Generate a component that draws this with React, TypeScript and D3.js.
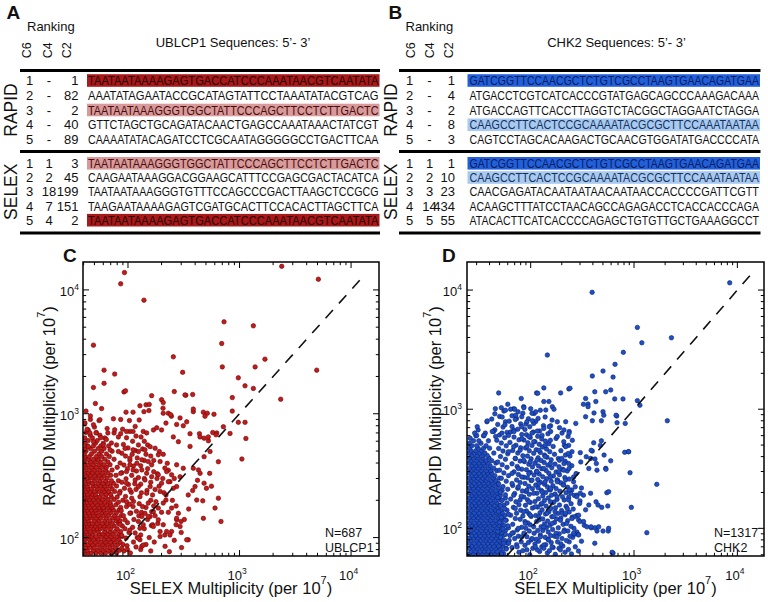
import React from 'react';
import * as d3 from 'd3';

const FONT = '"Liberation Sans", Arial, Helvetica, sans-serif';
const SEQ_FONT = '"Liberation Sans Narrow", "Arial Narrow", "Liberation Sans", Arial, sans-serif';

// ---------------- Table data ----------------
const rankingHeaders = ['C6', 'C4', 'C2'];
const groupLabels = ['RAPID', 'SELEX'];

const ublcp1RapidRanks = [['1', '-', '1'], ['2', '-', '82'], ['3', '-', '2'], ['4', '-', '40'], ['5', '-', '89']];
const ublcp1RapidSeqs = [
  'TAATAATAAAAGAGTGACCATCCCAAATAACGTCAATATA',
  'AAATATAGAATACCGCATAGTATTCCTAAATATACGTCAG',
  'TAATAATAAAGGGTGGCTATTCCCAGCTTCCTCTTGACTC',
  'GTTCTAGCTGCAGATACAACTGAGCCAAATAAACTATCGT',
  'CAAAATATACAGATCCTCGCAATAGGGGGCCTGACTTCAA',
];
const ublcp1RapidShade = [2, 0, 1, 0, 0];
const ublcp1SelexRanks = [['1', '1', '3'], ['2', '2', '45'], ['3', '18', '199'], ['4', '7', '151'], ['5', '4', '2']];
const ublcp1SelexSeqs = [
  'TAATAATAAAGGGTGGCTATTCCCAGCTTCCTCTTGACTC',
  'CAAGAATAAAGGACGGAAGCATTTCCGAGCGACTACATCA',
  'TAATAATAAAGGGTGTTTCCAGCCCGACTTAAGCTCCGCG',
  'TAAGAATAAAAGAGTCGATGCACTTCCACACTTAGCTTCA',
  'TAATAATAAAAGAGTGACCATCCCAAATAACGTCAATATA',
];
const ublcp1SelexShade = [1, 0, 0, 0, 2];

const chk2RapidRanks = [['1', '-', '1'], ['2', '-', '4'], ['3', '-', '2'], ['4', '-', '8'], ['5', '-', '3']];
const chk2RapidSeqs = [
  'GATCGGTTCCAACGCTCTGTCGCCTAAGTGAACAGATGAA',
  'ATGACCTCGTCATCACCCGTATGAGCAGCCCAAAGACAAA',
  'ATGACCAGTTCACCTTAGGTCTACGGCTAGGAATCTAGGA',
  'CAAGCCTTCACTCCGCAAAATACGCGCTTCCAAATAATAA',
  'CAGTCCTAGCACAAGACTGCAACGTGGATATGACCCCATA',
];
const chk2RapidShade = [2, 0, 0, 1, 0];
const chk2SelexRanks = [['1', '1', '1'], ['2', '2', '10'], ['3', '3', '23'], ['4', '14', '434'], ['5', '5', '55']];
const chk2SelexSeqs = [
  'GATCGGTTCCAACGCTCTGTCGCCTAAGTGAACAGATGAA',
  'CAAGCCTTCACTCCGCAAAATACGCGCTTCCAAATAATAA',
  'CAACGAGATACAATAATAACAATAACCACCCCGATTCGTT',
  'ACAAGCTTTATCCTAACAGCCAGAGACCTCACCACCCAGA',
  'ATACACTTCATCACCCCAGAGCTGTGTTGCTGAAAGGCCT',
];
const chk2SelexShade = [2, 1, 0, 0, 0];

// ---------------- Scatter data (multiplicity per 10^7) ----------------
const ublcp1Domain = { x: [39.5, 17800], y: [71, 16800] };
const chk2Domain = { x: [24.2, 18100], y: [58.6, 17200] };
const ublcp1Diagonal = [71, 13500];
const chk2Diagonal = [58.6, 14700];
const ublcp1Count = 'N=687';
const chk2Count = 'N=1317';

// dense core of UBLCP1: [RAPID value, SELEX values...]
const ublcp1CoreRows: [number, number[]][] = [
  [75, [41, 44, 47, 52, 57, 63, 70, 79]],
  [79, [40.5, 43, 49, 54, 60, 67, 74, 84]],
  [83, [42, 45.5, 50, 56, 62, 69, 77]],
  [88, [41, 44, 48, 53, 59, 65, 72, 81, 90]],
  [92, [40.5, 46, 51, 57, 63, 70, 76, 85]],
  [97, [42, 44.5, 49, 54, 61, 67, 74, 82]],
  [102, [41, 45, 47.5, 52, 58, 64, 71, 79, 88]],
  [107, [40.5, 43, 48, 55, 60, 66, 73, 84]],
  [112, [42, 46, 50, 54, 62, 69, 77, 86]],
  [118, [41, 44, 49, 53, 57, 63, 70, 80]],
  [124, [40.5, 43.5, 47, 51, 56, 61, 67, 75, 89]],
  [130, [42, 45, 48, 53, 59, 65, 72, 82]],
  [137, [41, 44, 50, 55, 62, 69, 78, 85]],
  [144, [40.5, 43, 47, 52, 57, 64, 73, 81]],
  [151, [42, 46, 49, 54, 60, 67, 76, 87]],
  [159, [41, 44.5, 48, 52, 58, 63, 70, 79]],
  [167, [40.5, 43, 47, 51, 56, 61, 68, 74, 83]],
  [175, [42, 45, 50, 55, 60, 66, 72, 86]],
  [184, [41, 44, 48, 53, 58, 64, 70, 78]],
  [193, [40.5, 43, 46, 51, 57, 62, 69, 82]],
  [203, [42, 45, 49, 54, 59, 66, 75]],
  [213, [41, 44, 47, 52, 56, 63, 71, 80]],
  [224, [40.5, 43.5, 48, 51, 58, 64, 70]],
  [236, [42, 46, 50, 55, 61, 67, 76, 85]],
  [248, [41, 44, 47, 53, 59, 64, 72]],
  [261, [40.5, 43, 49, 52, 57, 62, 69, 79]],
  [274, [42, 45, 48, 54, 60, 66, 74]],
  [288, [41, 44, 50, 56, 63, 71, 82]],
  [303, [40.5, 43, 47, 52, 58, 65]],
  [318, [42, 46, 51, 55, 61, 70, 78]],
  [334, [41, 44, 48, 53, 59, 66, 88]],
  [351, [40.5, 45, 50, 56, 63, 72]],
  [369, [42, 47, 52, 58, 64, 80]],
  [388, [41, 44, 49, 55, 61, 69]],
  [408, [40.5, 46, 51, 57, 66]],
  [429, [42, 44, 49, 54, 62, 75]],
  [451, [41, 45, 52, 58, 68]],
  [474, [40.5, 47, 55, 64]],
  [498, [42, 50, 58, 72]],
  [523, [41, 46, 54, 61]],
  [550, [43, 49, 57, 67]],
  [578, [41, 51, 60]],
  [607, [44, 53]],
  [638, [41, 48, 62]],
  [670, [46, 56]],
  [705, [42, 52]],
  [740, [44]],
  [780, [50]],
  [830, [41]],
  [900, [46]],
];

// scattered UBLCP1 sequences: [SELEX, RAPID]
const ublcp1Scatter: [number, number][] = [
  [93, 13800], [86, 11200], [139, 8260], [2390, 15500], [5090, 12200], [49, 3580], [726, 5520], [1330, 5130],
  [692, 3690], [701, 2390], [255, 2880], [309, 2160], [61, 2250], [76, 2090], [61, 1760], [49, 1630], [51, 1210],
  [92, 1500], [95, 1530], [1380, 2390], [1690, 2760], [975, 1950], [1120, 1680], [1330, 1600], [4920, 2250],
  [2340, 1310], [861, 1350], [861, 1050], [975, 852], [1120, 852], [1140, 631], [1050, 431], [716, 785], [822, 693],
  [646, 410], [646, 208], [682, 135], [443, 330], [481, 275], [468, 198], [302, 83], [347, 96],
  [163, 1400], [128, 1160], [145, 1180], [155, 1190], [139, 1040], [154, 1060], [200, 1300], [207, 1230], [260, 1510],
  [330, 1410], [380, 1430], [206, 1110], [230, 1010], [245, 955], [96, 1030], [111, 1030], [74, 910], [86, 900],
  [103, 880], [126, 890], [89.5, 750], [97, 720], [111, 720], [116, 790], [137, 720], [147, 700], [169, 740],
  [181, 770], [200, 740], [219, 840], [273, 820], [336, 860], [385, 1040], [474, 1030], [514, 1010], [590, 990],
  [490, 955], [360, 690], [437, 690], [481, 635], [526, 605], [575, 705], [625, 700],
  [94, 525], [111, 511], [124, 495], [142, 511], [158, 542], [175, 527], [191, 495], [104, 438], [133, 425],
  [152, 411], [163, 387], [194, 411], [225, 398], [273, 387], [313, 363], [222, 341], [246, 321], [293, 310],
  [183, 328], [163, 310], [238, 283], [200, 275], [273, 258], [399, 258], [505, 250], [385, 363], [428, 352],
  [347, 221], [413, 201], [603, 173], [474, 143], [283, 157], [273, 139], [246, 112], [293, 123], [336, 96],
  [238, 105], [207, 127], [187, 139], [158, 148], [142, 157], [133, 148], [124, 135], [137, 127], [166, 127],
  [163, 162], [187, 173], [178, 195], [152, 190], [135, 178], [111, 178], [108, 208], [128, 214], [147, 228],
  [166, 221], [124, 258], [116, 292], [142, 292], [158, 258], [194, 236], [219, 221], [219, 201], [97, 341],
  [111, 352], [133, 352], [147, 331], [104, 387], [120, 398], [97, 275], [104, 243], [97, 195], [104, 157],
  [94, 139], [104, 115], [116, 109], [128, 96], [133, 85], [194, 102], [214, 105], [235, 77], [99, 80], [88, 82],
  [207, 1010], [241, 983], [293, 925], [324, 1420], [385, 1090], [313, 800], [255, 650], [283, 595], [360, 545],
  [442, 650], [525, 650], [615, 676], [544, 495], [481, 450], [207, 470], [187, 466], [214, 364], [187, 321],
  [230, 283], [255, 250], [246, 173], [273, 143], [270, 127], [299, 135], [207, 190], [169, 162], [152, 148],
  [128, 119], [124, 99], [169, 123], [194, 112], [222, 112], [137, 87],
  [41, 845], [43, 750], [51.7, 700], [57, 640], [49, 595], [64, 620], [71, 580], [79, 560], [60, 560], [44, 545],
  [69, 511], [82, 495], [46, 960], [42, 1050], [55, 880], [65, 760], [75, 700], [58, 1100], [56, 895], [49, 815],
  [45.6, 700], [76, 742], [82, 650], [66, 700],
];

// second band of UBLCP1 sequences around the core: [SELEX, RAPID]
const ublcp1Spread: [number, number][] = [
  [92, 78], [98, 86], [105, 75], [112, 92], [96, 99], [118, 84], [88, 104], [102, 110], [110, 121], [94, 118],
  [121, 100], [85, 128], [99, 132], [113, 140], [91, 150], [106, 158], [125, 150], [87, 165], [97, 178], [119, 163],
  [103, 186], [90, 200], [112, 196], [126, 188], [95, 215], [84, 228], [107, 232], [118, 245], [93, 250], [101, 268],
  [88, 280], [115, 272], [124, 305], [96, 298], [108, 318], [86, 330], [119, 345], [99, 360], [92, 385], [112, 378],
  [85, 400], [104, 420], [121, 440], [95, 455], [109, 470], [88, 480], [116, 505], [100, 530], [124, 560], [91, 565],
  [110, 600], [97, 640], [118, 660], [86, 690], [104, 720], [131, 650], [140, 600], [150, 560], [135, 520], [145, 470],
  [160, 455], [170, 420], [140, 420], [130, 380], [150, 360], [170, 340], [182, 300], [140, 300], [130, 270], [160, 280],
  [175, 245], [148, 240], [132, 230], [160, 200], [170, 180], [145, 175], [132, 160], [150, 140], [175, 150], [162, 125],
  [140, 118], [130, 105], [155, 100], [172, 92], [145, 88], [130, 80], [160, 78], [185, 130], [200, 160], [210, 230],
  [190, 260], [205, 300], [230, 350], [260, 300], [250, 200], [230, 160], [270, 180], [215, 85], [260, 95], [300, 110],
  [320, 140], [350, 170], [380, 240], [420, 290], [540, 330], [560, 260],
];

// dense core of CHK2: [RAPID value, SELEX values...]
const chk2CoreRows: [number, number[]][] = [
  [61, [25.5, 28, 31, 34, 37.5, 41, 45, 50, 55]],
  [64, [26.5, 29.5, 32.5, 35.5, 39, 43, 47.5, 53]],
  [68, [25.5, 28, 30.5, 34, 37, 41.5, 46, 51, 58]],
  [71, [27, 29.5, 33, 36, 40, 44, 49, 54]],
  [75, [25.5, 28.5, 31.5, 35, 38.5, 42.5, 47, 52, 60]],
  [79, [26.5, 30, 33, 37, 40.5, 45, 50, 56]],
  [83, [25.5, 28, 31, 34.5, 38, 42, 46.5, 51.5]],
  [87, [27, 29.5, 32.5, 36, 39.5, 44, 48.5, 54, 63]],
  [92, [25.5, 28.5, 31.5, 35, 38.5, 42, 47, 52]],
  [96, [26.5, 30, 33.5, 37, 41, 45.5, 50, 57]],
  [101, [25.5, 28, 31, 34.5, 38, 43, 48, 53, 61]],
  [106, [27, 29.5, 32.5, 36, 40, 44.5, 49.5, 55]],
  [111, [25.5, 28.5, 31.5, 35, 39, 42.5, 47, 52]],
  [117, [26.5, 30, 33.5, 37.5, 41, 46, 51, 58]],
  [123, [25.5, 28, 31, 34.5, 38.5, 43, 48.5, 54]],
  [129, [27, 29.5, 32.5, 36, 40, 44.5, 50, 56, 64]],
  [135, [25.5, 28.5, 31.5, 35, 39, 42.5, 47, 53]],
  [142, [26.5, 30, 33.5, 37.5, 41.5, 46, 51, 59]],
  [149, [25.5, 28, 31, 34.5, 38.5, 43.5, 48.5]],
  [156, [27, 29.5, 32.5, 36, 40, 44.5, 50, 55]],
  [164, [25.5, 28.5, 31.5, 35, 38.5, 42, 47]],
  [172, [26.5, 30, 33.5, 37, 41, 46, 52]],
  [180, [25.5, 28, 31, 34.5, 38, 43, 48.5, 57]],
  [189, [27, 29.5, 32.5, 36, 40, 45, 51]],
  [198, [25.5, 28.5, 31.5, 35, 39, 42.5, 47]],
  [208, [26.5, 30, 33.5, 37.5, 41.5, 46.5, 53]],
  [218, [25.5, 28, 31, 34.5, 38.5, 43, 49]],
  [229, [27, 29.5, 32.5, 36, 40, 45]],
  [240, [25.5, 28.5, 31.5, 35, 39, 42.5, 48]],
  [252, [26.5, 30, 33.5, 37, 41.5, 46]],
  [264, [25.5, 28, 31, 34.5, 38, 43.5, 50]],
  [277, [27, 29.5, 32.5, 36, 40, 45]],
  [291, [25.5, 28.5, 31.5, 35, 38.5, 42]],
  [305, [26.5, 30, 33.5, 37.5, 41, 47]],
  [320, [25.5, 28, 31, 34.5, 39, 44]],
  [336, [27, 29.5, 32.5, 36, 40.5]],
  [353, [25.5, 28.5, 31.5, 35, 38.5, 46]],
  [370, [26.5, 30, 33.5, 37, 42]],
  [389, [25.5, 28, 31, 34.5, 39.5]],
  [408, [27, 30.5, 34, 38]],
  [428, [25.5, 28.5, 32, 36, 44]],
  [449, [26.5, 29.5, 33.5]],
  [471, [25.5, 31, 35, 40]],
  [494, [27, 30, 37]],
  [518, [25.5, 33]],
  [543, [28, 31.5, 39]],
  [570, [26]],
  [598, [29.5, 35]],
];

// second band of CHK2 sequences: [SELEX, RAPID]
const chk2Spread: [number, number][] = [
  [52, 61], [77, 63], [98, 60], [122, 64], [145, 62], [173, 60.5], [215, 63], [248, 61],
  [58, 67], [84, 65], [105, 68], [116, 66], [152, 65], [188, 68], [232, 66.5], [290, 64.5],
  [49, 71], [66, 69], [88, 72], [128, 70], [140, 73], [165, 69], [205, 71], [270, 70],
  [55, 75], [73, 73], [95, 76], [110, 74], [134, 72.5], [158, 76], [196, 74], [236, 77],
  [62, 79], [81, 77], [101, 80], [119, 78], [147, 81], [182, 77], [222, 79], [310, 78],
  [51, 84], [70, 82], [92, 85], [113, 81], [138, 84], [170, 86], [201, 82], [255, 84],
  [57, 89], [76, 86], [86, 91], [124, 88], [156, 87], [189, 90], [240, 86],
  [48, 94], [68, 92], [97, 95], [108, 91], [131, 96], [148, 93], [176, 91], [229, 95], [280, 93],
  [54, 99], [74, 97], [90, 100], [117, 96], [142, 101], [163, 98], [212, 97], [262, 100],
  [60, 105], [82, 102], [99, 107], [126, 103], [153, 106], [185, 101], [245, 104], [330, 106],
  [50, 112], [67, 108], [94, 111], [114, 114], [136, 109], [170, 112], [206, 108],
  [57, 117], [79, 119], [88, 114], [121, 118], [146, 115], [178, 120], [228, 116], [290, 118],
  [52, 124], [71, 121], [101, 126], [131, 120], [160, 125], [196, 122], [252, 124],
  [61, 131], [84, 127], [96, 133], [112, 128], [139, 132], [167, 126], [215, 130], [280, 128],
  [49, 138], [73, 134], [91, 140], [123, 135], [150, 138], [183, 133], [236, 137],
  [56, 146], [80, 142], [104, 148], [129, 143], [157, 147], [199, 141], [258, 145], [340, 143],
  [51, 155], [68, 150], [89, 156], [117, 151], [141, 154], [174, 149], [220, 153],
  [59, 163], [77, 158], [99, 165], [126, 159], [162, 164], [190, 157], [246, 161],
  [53, 172], [72, 167], [93, 174], [110, 168], [136, 171], [168, 166], [211, 173], [300, 170],
  [48, 181], [64, 176], [86, 183], [119, 177], [148, 180], [180, 175], [233, 182],
  [57, 191], [81, 186], [97, 193], [131, 187], [159, 190], [203, 184], [265, 189],
  [51, 201], [70, 196], [90, 204], [115, 197], [140, 200], [172, 194], [220, 199],
  [60, 213], [83, 206], [104, 215], [127, 208], [152, 212], [192, 205], [250, 210],
  [54, 224], [75, 217], [96, 226], [118, 219], [145, 223], [176, 216], [228, 221], [310, 218],
  [49, 236], [67, 229], [88, 238], [112, 231], [136, 235], [164, 228], [208, 233],
  [58, 249], [79, 242], [101, 252], [124, 244], [158, 248], [195, 241], [260, 246],
  [52, 263], [73, 255], [93, 266], [117, 257], [143, 261], [182, 254], [236, 259],
  [61, 277], [86, 268], [108, 280], [131, 271], [166, 275], [214, 267],
  [55, 292], [76, 283], [99, 295], [121, 286], [150, 290], [190, 282], [275, 288],
  [50, 308], [69, 298], [91, 311], [114, 301], [141, 306], [176, 297], [226, 303],
  [59, 325], [82, 314], [104, 328], [128, 317], [160, 322], [204, 313],
  [53, 342], [74, 331], [96, 345], [119, 334], [147, 339], [188, 329], [250, 336],
  [48, 360], [66, 348], [87, 363], [110, 352], [135, 357], [172, 346],
  [57, 380], [79, 367], [101, 383], [126, 371], [158, 376], [216, 365],
  [51, 400], [71, 386], [93, 404], [118, 391], [144, 396], [185, 385],
  [60, 422], [84, 407], [107, 426], [136, 412], [170, 418], [240, 405],
  [54, 445], [75, 428], [97, 448], [124, 434], [153, 440],
  [49, 468], [67, 450], [89, 472], [113, 457], [142, 463], [196, 449],
  [58, 493], [80, 474], [103, 497], [130, 481], [165, 487],
  [52, 520], [72, 499], [94, 523], [121, 507], [150, 513], [212, 498],
  [47, 548], [63, 526], [86, 551], [110, 534], [139, 540],
  [56, 577], [77, 553], [99, 580], [128, 562], [176, 569],
  [50, 607], [69, 583], [91, 611], [117, 592],
  [59, 639], [82, 613], [106, 643], [147, 622],
  [45, 672], [64, 645], [88, 677], [122, 656],
  [54, 708], [75, 680], [98, 713],
  [48, 745], [66, 715], [90, 750], [133, 727],
  [57, 785], [80, 753], [112, 790],
  [42, 826], [62, 794], [95, 832],
  [50, 869], [73, 835],
  [45, 915], [66, 880], [108, 921],
  [55, 965], [84, 927],
];

// scattered CHK2 sequences: [SELEX, RAPID]
const chk2Scatter: [number, number][] = [
  [8430, 11500], [393, 9570], [1077, 4860], [2300, 3980], [1190, 3610], [788, 3000], [145, 2850], [655, 2380],
  [501, 2090], [627, 1860], [395, 1900], [49, 1370], [134, 1510], [195, 1370], [234, 1480], [240, 1500], [114, 1370],
  [117, 1360], [340, 1230], [417, 1400], [427, 1160], [532, 1400], [595, 1450], [650, 1220], [782, 1220],
  [1077, 1180], [1140, 1080], [2100, 800], [680, 877], [501, 953], [359, 1105], [324, 1100], [483, 800], [395, 800],
  [340, 865], [273, 760], [218, 785], [156, 726], [483, 543], [395, 445], [419, 382], [380, 386], [513, 412],
  [595, 369], [532, 319], [813, 435], [881, 440], [915, 293], [1660, 234], [942, 150], [545, 199], [429, 167],
  [380, 197], [324, 190], [279, 190], [244, 197], [487, 150], [298, 162], [386, 101], [419, 101], [501, 95],
  [563, 95], [1330, 92], [417, 75], [627, 62], [288, 89], [263, 89], [300, 114], [263, 125], [223, 110], [202, 134],
  [226, 147],
  [359, 1050], [410, 930], [510, 890], [670, 890], [685, 770], [822, 760], [888, 440], [438, 308], [472, 497],
  [407, 522], [432, 350], [535, 313], [365, 318], [305, 361], [345, 399], [302, 432], [385, 452], [568, 203],
  [557, 154], [448, 157], [365, 157], [350, 103], [384, 103], [455, 103], [438, 95], [568, 100], [613, 63],
  [260, 91], [291, 88], [325, 114], [291, 129], [251, 121], [217, 134], [233, 173], [280, 184], [302, 197],
  [270, 223], [236, 210], [217, 254], [260, 270], [209, 308], [233, 350], [190, 373], [217, 412], [251, 440],
  [233, 497], [209, 534], [230, 590], [201, 630], [236, 650], [190, 700], [151, 714], [155, 548], [138, 497],
  [129, 603], [120, 452], [103, 630], [107, 760], [92, 785], [82, 714], [71, 820], [68.5, 1010], [85.5, 1050],
  [81, 1230], [103, 925], [124, 980], [138, 860], [161, 810], [53, 860], [57, 980], [45.5, 1010], [37.7, 785],
  [31, 670], [30, 603], [36.4, 630], [43.8, 650], [52.7, 630], [61, 603], [68.5, 670], [82, 565], [96, 590],
  [107, 534], [92, 485], [79, 452], [68.5, 485], [61, 440], [71, 386], [85.5, 373], [99, 362], [115, 373],
  [138, 400], [155, 350], [134, 318], [115, 300], [155, 270], [180, 254], [138, 246], [120, 238], [103, 254],
  [96, 289], [82, 270], [76, 318], [66, 289], [66, 238], [76, 223], [92, 210], [107, 197], [129, 203], [155, 210],
  [180, 184], [155, 167], [129, 162], [111, 152], [96, 167], [79, 173], [68.5, 190], [71, 147], [85.5, 138],
  [99, 129], [120, 125], [144, 134], [172, 138], [194, 117], [161, 110], [134, 103], [107, 103], [89, 110],
  [76, 100], [66, 91], [82, 85], [103, 82], [124, 85], [149, 80], [180, 85], [209, 94], [161, 70], [134, 68],
  [111, 70], [92, 66], [74, 70], [194, 66], [61, 75],
  [60, 1100], [52, 1030], [64, 1000], [70, 1000], [75.5, 950], [82, 865], [71.5, 890], [86, 1030], [100, 1010],
  [112, 950], [118, 837], [104, 800], [134, 1160], [140, 985], [150, 1160], [162, 1050], [168, 1000], [181, 785],
  [134, 690], [116, 655], [156, 650], [181, 590], [210, 670], [235, 630], [253, 548], [218, 485], [231, 425],
  [200, 386], [210, 350], [235, 318], [188, 300], [181, 246], [207, 231], [156, 216], [30.4, 714], [28.7, 630],
  [35.4, 603], [42.5, 650], [45.8, 590], [38, 797], [56.4, 740], [69, 650],
];

const expand = (rows: [number, number[]][]): [number, number][] =>
  rows.flatMap(([yv, xs]) => xs.map((xv) => [xv, yv] as [number, number]));

const ublcp1Points = [...expand(ublcp1CoreRows), ...ublcp1Spread, ...ublcp1Scatter];
const chk2Points = [...expand(chk2CoreRows), ...chk2Spread, ...chk2Scatter];

// ---------------- Table component ----------------
const rapidRowY = [80.5, 95.2, 110, 124.8, 139.5];
const selexRowY = [163.3, 177.5, 191.7, 206, 220.2];

function SeqTable(p: any) {
  const groups = [
    { ranks: p.rapidRanks, seqs: p.rapidSeqs, shade: p.rapidShade, ys: rapidRowY },
    { ranks: p.selexRanks, seqs: p.selexSeqs, shade: p.selexShade, ys: selexRowY },
  ];
  const shadeFill = ['none', p.light, p.dark];
  const textFill = ['#111', p.lightText, p.darkText];
  return (
    <g fontFamily={FONT}>
      <text x={p.letterX} y={18.5} fontSize={19} fontWeight="bold" fill="#111">{p.letter}</text>
      <text x={p.rankingX} y={30.5} fontSize={13} fill="#111">Ranking</text>
      {rankingHeaders.map((h, i) => (
        <text key={h} transform={`translate(${p.headerX[i]},50.3) rotate(-90)`} textAnchor="middle" fontSize={12.5} fill="#111">{h}</text>
      ))}
      <text x={p.titleX} y={46.5} textAnchor="middle" fontSize={13} fill="#111">{p.title}</text>
      {[70.5, 151.5, 233].map((ly) => (
        <line key={ly} x1={p.lineX0} x2={p.lineX1} y1={ly} y2={ly} stroke="#000" strokeWidth={3} />
      ))}
      {groups.map((g, gi) => (
        <g key={gi}>
          <text
            transform={`translate(${p.groupX},${(g.ys[0] + g.ys[4]) / 2}) rotate(-90)`}
            textAnchor="middle"
            fontSize={17.5}
            fill="#111"
          >
            {groupLabels[gi]}
          </text>
          {g.seqs.map((s: string, i: number) => (
            <g key={i}>
              {g.shade[i] > 0 && (
                <rect x={p.hlX0} y={g.ys[i] - 6.3} width={p.hlX1 - p.hlX0} height={12.6} fill={shadeFill[g.shade[i]]} />
              )}
              <text x={p.colX[0]} y={g.ys[i]} dy="0.36em" textAnchor="middle" fontSize={13} fill="#111">{g.ranks[i][0]}</text>
              <text x={p.colX[1]} y={g.ys[i]} dy="0.36em" textAnchor="middle" fontSize={13} fill="#111">{g.ranks[i][1]}</text>
              <text x={p.colX[2]} y={g.ys[i]} dy="0.36em" textAnchor="end" fontSize={13} fill="#111">{g.ranks[i][2]}</text>
              <text
                x={p.seqX0}
                y={g.ys[i]}
                dy="0.36em"
                fontSize={12.5}
                fontFamily={SEQ_FONT}
                textLength={p.seqX1 - p.seqX0}
                lengthAdjust="spacingAndGlyphs"
                fill={textFill[g.shade[i]]}
              >
                {s}
              </text>
            </g>
          ))}
        </g>
      ))}
    </g>
  );
}

// ---------------- Scatter component ----------------
function Scatter(p: any) {
  const x = d3.scaleLog().domain(p.xDomain).range([p.x0, p.x1]);
  const y = d3.scaleLog().domain(p.yDomain).range([p.y1, p.y0]);
  const isMajor = (t: number) => Math.abs(Math.log10(t) - Math.round(Math.log10(t))) < 1e-6;
  const xt = x.ticks();
  const yt = y.ticks();
  const diag = d3.line()(p.diagonal.map((v: number) => [x(v), y(v)] as [number, number]));
  const clipId = `clip-${p.id}`;
  const major = 6;
  const minor = 3.2;
  return (
    <g fontFamily={FONT}>
      <defs>
        <clipPath id={clipId}>
          <rect x={p.x0} y={p.y0} width={p.x1 - p.x0} height={p.y1 - p.y0} />
        </clipPath>
      </defs>
      <text x={p.letterX} y={261.5} fontSize={19} fontWeight="bold" fill="#111">{p.letter}</text>
      <g clipPath={`url(#${clipId})`}>
        {p.points.map(([a, b]: [number, number], i: number) => (
          <circle key={i} cx={x(a)} cy={y(b)} r={2.25} fill={p.fill} stroke={p.stroke} strokeWidth={0.6} />
        ))}
        <path d={diag || ''} fill="none" stroke="#111" strokeWidth={1.6} strokeDasharray="11,9" />
      </g>
      {xt.map((t, i) => {
        const l = isMajor(t) ? major : minor;
        const px = x(t);
        return (
          <g key={`x${i}`}>
            <line x1={px} x2={px} y1={p.y1} y2={p.y1 - l} stroke="#000" strokeWidth={1} />
            <line x1={px} x2={px} y1={p.y0} y2={p.y0 + l} stroke="#000" strokeWidth={1} />
          </g>
        );
      })}
      {yt.map((t, i) => {
        const l = isMajor(t) ? major : minor;
        const py = y(t);
        return (
          <g key={`y${i}`}>
            <line x1={p.x0} x2={p.x0 + l} y1={py} y2={py} stroke="#000" strokeWidth={1} />
            <line x1={p.x1} x2={p.x1 - l} y1={py} y2={py} stroke="#000" strokeWidth={1} />
          </g>
        );
      })}
      <rect x={p.x0} y={p.y0} width={p.x1 - p.x0} height={p.y1 - p.y0} fill="none" stroke="#000" strokeWidth={1.5} />
      {xt.filter(isMajor).map((t) => (
        <text key={`xl${t}`} x={x(t) - 2.5} y={580} textAnchor="middle" fontSize={13} fill="#111">
          10<tspan dy={-6} fontSize={8.5}>{Math.round(Math.log10(t))}</tspan>
        </text>
      ))}
      {yt.filter(isMajor).map((t) => (
        <text key={`yl${t}`} x={p.yTickX} y={y(t) + 6} textAnchor="end" fontSize={13} fill="#111">
          10<tspan dy={-6} fontSize={8.5}>{Math.round(Math.log10(t))}</tspan>
        </text>
      ))}
      <text x={(p.x0 + p.x1) / 2} y={594} textAnchor="middle" fontSize={16.5} fill="#111">
        SELEX Multiplicity (per 10<tspan dy={-10} fontSize={11}>7</tspan><tspan dy={10}>)</tspan>
      </text>
      <text transform={`translate(${p.yTitleX},406) rotate(-90)`} textAnchor="middle" fontSize={16.5} fill="#111">
        RAPID Multiplicity (per 10<tspan dy={-10} fontSize={11}>7</tspan><tspan dy={10}>)</tspan>
      </text>
      <text x={p.noteX} y={536.7} fontSize={12.5} fill="#111">{p.count}</text>
      <text x={p.noteX} y={551.7} fontSize={12.5} fill="#111">{p.name}</text>
    </g>
  );
}

export default function App() {
  return (
    <div>
      <svg width={768} height={602} style={{ position: 'absolute', left: 0, top: 0, background: '#fff' }}>
        <rect x={0} y={0} width={768} height={602} fill="#fff" />
        <SeqTable
          letter="A" letterX={6.5} rankingX={27} headerX={[30.5, 51.5, 70.5]}
          title="UBLCP1 Sequences: 5’- 3’" titleX={233}
          lineX0={20} lineX1={380} groupX={16.5}
          colX={[29.5, 49, 78.5]} hlX0={87} hlX1={379.5} seqX0={88} seqX1={378.5}
          rapidRanks={ublcp1RapidRanks} rapidSeqs={ublcp1RapidSeqs} rapidShade={ublcp1RapidShade}
          selexRanks={ublcp1SelexRanks} selexSeqs={ublcp1SelexSeqs} selexShade={ublcp1SelexShade}
          dark="#A8191A" light="#D89A9A" darkText="#2a0000" lightText="#4a0c0c"
        />
        <SeqTable
          letter="B" letterX={388.5} rankingX={405.5} headerX={[414.7, 434, 453]}
          title="CHK2 Sequences: 5’- 3’" titleX={616.5}
          lineX0={399} lineX1={760.5} groupX={396.5}
          colX={[409.5, 429.5, 455]} hlX0={467.5} hlX1={760} seqX0={469.5} seqX1={759}
          rapidRanks={chk2RapidRanks} rapidSeqs={chk2RapidSeqs} rapidShade={chk2RapidShade}
          selexRanks={chk2SelexRanks} selexSeqs={chk2SelexSeqs} selexShade={chk2SelexShade}
          dark="#2160DA" light="#A8CAF0" darkText="#0a1a5c" lightText="#14305e"
        />
        <Scatter
          id="c" letter="C" letterX={63}
          x0={83} x1={379} y0={262} y1={556}
          xDomain={ublcp1Domain.x} yDomain={ublcp1Domain.y}
          points={ublcp1Points} diagonal={ublcp1Diagonal}
          fill="#C41A1A" stroke="#6a0808"
          yTickX={79} yTitleX={55}
          noteX={325} count={ublcp1Count} name="UBLCP1"
        />
        <Scatter
          id="d" letter="D" letterX={442}
          x0={467} x1={764} y0={262} y1={556}
          xDomain={chk2Domain.x} yDomain={chk2Domain.y}
          points={chk2Points} diagonal={chk2Diagonal}
          fill="#1F4FC6" stroke="#0c2370"
          yTickX={462} yTitleX={440.5}
          noteX={714} count={chk2Count} name="CHK2"
        />
      </svg>
    </div>
  );
}
